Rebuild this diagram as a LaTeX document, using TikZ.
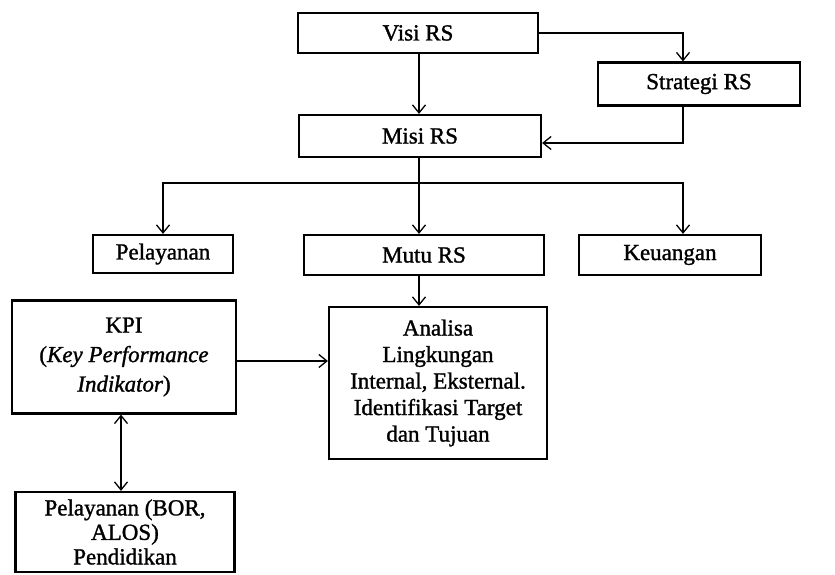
\documentclass[tikz,border=0pt]{standalone}
\usepackage{fontspec}
\setmainfont{Liberation Serif}[FakeBold=1.3]
\usetikzlibrary{arrows.meta}
\begin{document}
\begin{tikzpicture}[x=1pt,y=-1pt,
    >={Straight Barb[length=8pt,width=13pt,line width=1.3pt]},
    line width=1.4pt,
    box/.style={draw,line width=2.2pt,inner sep=0pt,align=center,
        font=\fontsize{23}{26.5}\selectfont}]
    \useasboundingbox (0,0) rectangle (835,575);
    \node[box,minimum width=240,minimum height=40] (visi) at (418,33) {Visi RS};
    \node[box,minimum width=202,minimum height=43] (strategi) at (699,84) {Strategi RS};
    \node[box,minimum width=242,minimum height=42] (misi) at (420,136) {Misi RS};
    \node[box,minimum width=140,minimum height=38] (pelayanan) at (163,254) {Pelayanan};
    \node[box,minimum width=240,minimum height=40] (mutu) at (424,255) {Mutu RS};
    \node[box,minimum width=182,minimum height=40] (keuangan) at (670,255) {Keuangan};
    \node[box,minimum width=224,minimum height=113,
        font=\fontsize{23}{29.5}\selectfont] (kpi) at (124,357)
        {KPI\\(\textit{Key Performance}\\\textit{Indikator})};
    \node[box,minimum width=218,minimum height=152] (analisa) at (438,383)
        {Analisa\\Lingkungan\\Internal, Eksternal.\\Identifikasi Target\\dan Tujuan};
    \node[box,minimum width=219,minimum height=80,
        font=\fontsize{23}{24.5}\selectfont] (ukuran) at (125,532)
        {Pelayanan (BOR,\\ALOS)\\Pendidikan};
    \coordinate (cabang) at (419,183);
    \draw[->] (visi.south -| cabang) -- (misi.north -| cabang);
    \draw[->] (visi.east) -| ([xshift=-16pt]strategi.north);
    \draw[->] ([xshift=-16pt]strategi.south) |- ([yshift=-7pt]misi.east);
    \draw (misi.south -| cabang) -- (cabang);
    \draw[->] (cabang) -- (mutu.north -| cabang);
    \draw[->] (cabang) -| (pelayanan.north);
    \draw[->] (cabang) -| ([xshift=13pt]keuangan.north);
    \draw[->] (mutu.south -| cabang) -- (analisa.north -| cabang);
    \draw[->] ([yshift=-4pt]kpi.east) -- ([yshift=-4pt]kpi.east -| analisa.west);
    \draw[<->] ([xshift=-3pt]kpi.south) -- ([xshift=-3pt]kpi.south |- ukuran.north);
\end{tikzpicture}
\end{document}
